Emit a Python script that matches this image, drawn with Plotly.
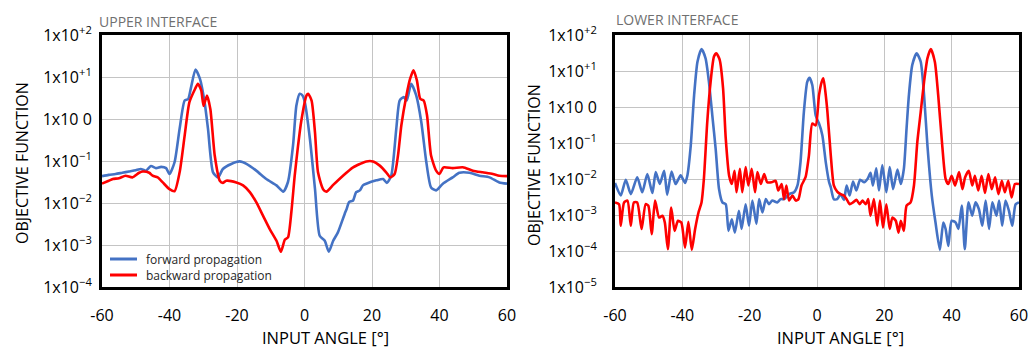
import numpy as np
import plotly.graph_objects as go

# ---------------- data (log10 of objective function) ----------------
up_fwd_x = [-60, -58, -56, -54, -52, -50, -48.5, -47, -45.5, -44, -42.5, -41, -40, -38.5, -37, -35.5, -34.5,
            -33.6, -32.3, -31, -29.6, -28.6, -27.1, -25.6, -24.2, -21.7, -19.2, -17.2, -14.3, -11.3, -8.3,
            -6.3, -4.9, -3.4, -2.4, -1.4, -0.6, 0.1, 1.6, 3.1, 4.5, 6.0, 7.2, 8.5, 9.9, 11.9, 12.5, 13.2,
            14.4, 15.3, 16.4, 17.3, 18.3, 21.3, 23.3, 24.4, 25.7, 27.2, 28.2, 29.4, 30.3, 31.6, 33.1, 34.6,
            36.1, 37.5, 39.0, 41.0, 43.9, 45.9, 48.9, 51.8, 54.8, 57.7, 60]
up_fwd_log = [-1.36, -1.33, -1.31, -1.28, -1.25, -1.22, -1.19, -1.23, -1.12, -1.17, -1.14, -1.17, -1.31, -1.03,
              -0.23, 0.44, 0.47, 0.76, 1.18, 0.96, 0.40, -0.23, -1.27, -1.39, -1.19, -1.07, -1.01, -1.07,
              -1.23, -1.43, -1.58, -1.73, -1.50, -0.63, 0.32, 0.60, 0.56, 0.40, -0.47, -1.66, -2.78, -2.90,
              -3.16, -2.90, -2.70, -2.26, -2.14, -1.98, -1.94, -1.74, -1.70, -1.58, -1.54, -1.46, -1.43,
              -1.52, -1.35, -0.23, 0.44, 0.52, 0.44, 0.84, 0.56, -0.07, -1.03, -1.63, -1.70, -1.54, -1.39,
              -1.28, -1.28, -1.35, -1.39, -1.51, -1.54]

up_bwd_x = [-60, -58, -56.8, -55, -53, -51, -49, -47.9, -46, -45, -43.5, -42, -40, -38.5, -37, -35.5, -34.1,
            -32.4, -31.6, -30.6, -29.9, -28.9, -27.9, -26.6, -25.1, -24.2, -23.2, -20.2, -18.2, -16.2, -14.3,
            -12.3, -10.3, -8.3, -7.0, -5.8, -4.9, -3.9, -2.9, -1.9, -1.0, 0.6, 1.1, 2.1, 3.1, 4.0, 5.5, 6.5,
            8.5, 11.4, 14.4, 16.4, 18.3, 20.3, 22.3, 24.2, 25.4, 26.7, 27.7, 28.7, 30.2, 31.3, 32.3, 33.3,
            34.3, 35.3, 36.3, 37.5, 39.0, 40.0, 41.2, 43.9, 46.9, 49.9, 52.8, 55.8, 57.7, 60]
up_bwd_log = [-1.54, -1.47, -1.43, -1.41, -1.35, -1.39, -1.28, -1.25, -1.28, -1.35, -1.39, -1.51, -1.67, -1.72,
              -1.27, -0.39, 0.40, 0.72, 0.84, 0.68, 0.31, 0.56, 0.24, -0.87, -1.47, -1.52, -1.47, -1.51,
              -1.58, -1.74, -1.98, -2.30, -2.62, -2.90, -3.16, -2.87, -2.82, -2.22, -1.35, -0.63, -0.07,
              0.56, 0.60, 0.44, -0.31, -1.27, -1.67, -1.73, -1.57, -1.35, -1.15, -1.07, -1.01, -1.01, -1.11,
              -1.27, -1.39, -1.31, -0.87, -0.15, 0.56, 0.96, 1.16, 0.92, 0.48, 0.44, 0.09, -0.87, -1.23,
              -1.31, -1.15, -1.17, -1.15, -1.23, -1.27, -1.31, -1.35, -1.36]

lo_fwd_x = [-60.0, -58.3, -56.8, -55.3, -53.4, -51.9, -50.4, -48.9, -47.9, -46.7, -45.4, -44.5, -43.2, -42.0,
            -40.5, -39.2, -38.5, -37.5, -36.5, -35.5, -34.3, -33.1, -32.1, -31.1, -30.1, -29.1, -28.1, -27.1,
            -26.3, -25.3, -24.4, -23.2, -22.4, -21.2, -20.2, -19.2, -18.0, -17.2, -16.2, -15.2, -14.3, -13.3,
            -11.8, -10.8, -9.8, -8.3, -6.8, -5.8, -4.9, -3.9, -2.9, -2.2, -1.4, -0.4, 0.4, 0.6, 1.6, 2.6,
            3.6, 4.1, 5.0, 6.0, 7.0, 8.0, 8.8, 9.7, 10.7, 11.7, 12.8, 14.0, 15.0, 15.9, 16.6, 17.6, 18.4,
            19.4, 20.6, 21.6, 22.6, 23.9, 24.9, 25.8, 26.6, 27.3, 28.3, 29.6, 30.8, 31.8, 32.8, 34.1, 35.2,
            36.5, 37.5, 38.2, 39.0, 40.0, 41.2, 42.0, 43.0, 43.9, 45.0, 46.1, 47.1, 48.1, 49.1, 50.1, 51.1,
            52.1, 53.3, 54.1, 55.0, 56.0, 57.0, 58.0, 59.0, 60.0]
lo_fwd_log = [-2.11, -2.46, -2.02, -2.42, -1.95, -2.37, -1.86, -2.39, -1.81, -2.14, -1.77, -2.44, -1.79, -2.14,
              -1.90, -2.11, -1.90, -1.07, 0.33, 1.26, 1.61, 1.35, 0.70, -0.23, -1.16, -2.28, -2.65, -2.70,
              -3.44, -3.12, -3.49, -2.88, -3.39, -2.70, -3.30, -2.60, -3.25, -2.56, -2.93, -2.56, -2.70,
              -2.60, -2.65, -2.56, -2.56, -2.42, -2.37, -2.18, -1.53, -0.14, 0.70, 0.81, 0.61, -0.23, -0.42,
              -0.46, -0.79, -1.53, -2.09, -2.23, -2.56, -2.56, -2.42, -2.58, -2.18, -2.46, -2.07, -2.32,
              -2.02, -2.09, -2.00, -1.83, -2.18, -1.70, -2.32, -1.61, -2.37, -1.67, -2.28, -1.74, -2.14,
              -1.72, -0.60, 0.33, 1.17, 1.49, 1.26, 0.33, -1.07, -2.46, -3.21, -3.97, -3.21, -3.39, -3.86,
              -3.16, -3.21, -3.39, -2.74, -3.95, -2.65, -3.02, -2.65, -2.84, -3.30, -2.60, -3.39, -2.65,
              -3.02, -2.60, -3.30, -2.60, -2.88, -3.30, -2.70, -2.65]

lo_bwd_x = [-60.0, -58.8, -58.3, -57.3, -56.3, -55.3, -54.4, -53.4, -52.1, -50.9, -50.1, -49.1, -48.1, -46.9,
            -45.9, -45.2, -44.3, -43.3, -42.3, -41.3, -40.3, -39.2, -38.2, -37.2, -36.2, -35.2, -34.3, -33.6,
            -32.6, -31.6, -30.6, -29.9, -28.9, -27.9, -27.1, -26.1, -25.3, -24.5, -23.9, -22.9, -22.2, -21.2,
            -20.4, -19.4, -18.4, -17.7, -16.7, -15.7, -14.8, -13.5, -12.3, -11.5, -10.5, -9.8, -9.1, -8.3,
            -7.3, -6.3, -5.5, -4.6, -3.4, -2.4, -1.4, -0.4, 0.6, 1.4, 1.9, 2.6, 3.1, 4.1, 5.0, 6.0, 7.0,
            8.0, 8.8, 9.7, 10.7, 11.7, 12.7, 13.5, 14.5, 15.2, 15.9, 16.9, 17.9, 18.7, 19.6, 20.6, 21.6,
            22.4, 23.4, 24.2, 24.9, 25.8, 26.6, 27.8, 28.8, 29.8, 30.8, 31.8, 32.8, 33.8, 35.0, 36.0, 37.2,
            38.2, 39.0, 40.0, 41.0, 42.2, 43.2, 44.0, 45.1, 46.1, 46.9, 47.9, 48.9, 49.9, 50.9, 51.9, 52.9,
            53.9, 54.9, 55.8, 56.8, 57.8, 58.8, 60.0]
lo_bwd_log = [-2.65, -2.70, -3.30, -2.65, -2.60, -3.30, -2.65, -2.65, -3.39, -2.70, -2.74, -3.53, -2.60, -3.07,
              -3.02, -3.21, -3.95, -2.79, -3.44, -3.16, -3.21, -3.91, -3.19, -3.97, -3.39, -2.93, -2.65,
              -2.00, -0.42, 0.70, 1.40, 1.49, 1.31, 0.52, -0.88, -1.91, -2.14, -1.77, -2.37, -1.72, -2.37,
              -1.67, -2.18, -1.72, -2.37, -1.81, -2.14, -1.86, -2.09, -2.09, -2.05, -2.32, -2.14, -2.56,
              -2.18, -2.60, -2.46, -2.60, -2.56, -2.18, -1.95, -1.35, -0.46, -0.51, 0.33, 0.70, 0.80, 0.33,
              -0.14, -1.35, -2.18, -2.35, -2.42, -2.46, -2.56, -2.70, -2.65, -2.58, -2.70, -2.60, -2.70,
              -2.56, -3.02, -2.56, -3.30, -2.60, -3.35, -2.70, -3.39, -3.07, -3.16, -3.49, -3.16, -3.44,
              -2.74, -2.65, -2.18, -0.97, -0.14, 0.70, 1.35, 1.61, 1.26, 0.33, -1.07, -2.00, -2.14, -1.91,
              -2.18, -1.81, -2.28, -1.95, -1.77, -2.18, -1.91, -2.32, -1.91, -2.39, -1.86, -2.28, -1.95,
              -2.42, -2.05, -2.37, -2.05, -2.51, -2.14, -2.14]

series_names = ["forward propagation", "backward propagation"]
x_ticks = [-60, -40, -20, 0, 20, 40, 60]
up_y_ticks = [1e-4, 1e-3, 1e-2, 1e-1, 1e0, 1e1, 1e2]
up_y_text = ["1x10<sup>\u22124</sup>", "1x10<sup>\u22123</sup>", "1x10<sup>\u22122</sup>",
             "1x10<sup>\u22121</sup>", "1x10 0", "1x10<sup>+1</sup>", "1x10<sup>+2</sup>"]
lo_y_ticks = [1e-5] + up_y_ticks
lo_y_text = ["1x10<sup>\u22125</sup>"] + up_y_text

BLUE = "#4472C4"
RED = "#FF0000"
FONT = "Open Sans"

fig = go.Figure()
line_w = 2.6
shape = dict(shape="spline", smoothing=0.6, width=line_w)

fig.add_trace(go.Scatter(x=up_fwd_x, y=np.power(10.0, up_fwd_log), mode="lines", name=series_names[0],
                         line=dict(color=BLUE, **shape), xaxis="x", yaxis="y"))
fig.add_trace(go.Scatter(x=up_bwd_x, y=np.power(10.0, up_bwd_log), mode="lines", name=series_names[1],
                         line=dict(color=RED, **shape), xaxis="x", yaxis="y"))
fig.add_trace(go.Scatter(x=lo_fwd_x, y=np.power(10.0, lo_fwd_log), mode="lines", name=series_names[0],
                         line=dict(color=BLUE, **shape), xaxis="x2", yaxis="y2"))
fig.add_trace(go.Scatter(x=lo_bwd_x, y=np.power(10.0, lo_bwd_log), mode="lines", name=series_names[1],
                         line=dict(color=RED, **shape), xaxis="x2", yaxis="y2"))

W, H = 1028, 349
def px(v): return v / W
def py(v): return 1 - v / H

common_x = dict(range=[-60, 60], tickvals=x_ticks, ticktext=[str(t) for t in x_ticks],
                showgrid=True, gridcolor="#c4c4c4", gridwidth=1, zeroline=False, automargin=False,
                showline=True, linecolor="black", linewidth=3, mirror=True, ticks="",
                ticklabeloverflow="allow",
                tickfont=dict(family=FONT, size=16, color="black"), ticklabelstandoff=12)
common_y = dict(type="log", showgrid=True, gridcolor="#c4c4c4", gridwidth=1, zeroline=False, automargin=False,
                showline=True, linecolor="black", linewidth=3, mirror=True, ticks="",
                ticklabeloverflow="allow",
                tickfont=dict(family=FONT, size=16, color="black"))

fig.update_layout(
    width=W, height=H, margin=dict(l=0, r=0, t=0, b=0, autoexpand=False),
    paper_bgcolor="white", plot_bgcolor="white",
    xaxis=dict(domain=[px(102), px(507)], anchor="y", **common_x),
    yaxis=dict(domain=[py(287), py(35)], anchor="x", range=[-4, 2], tickvals=up_y_ticks,
               ticktext=up_y_text, ticklabelstandoff=4, **common_y),
    xaxis2=dict(domain=[px(615), px(1019)], anchor="y2", **common_x),
    yaxis2=dict(domain=[py(287), py(35)], anchor="x2", range=[-5, 2], tickvals=lo_y_ticks,
                ticktext=lo_y_text, ticklabelstandoff=12, **common_y),
    showlegend=False,
)

# legend (drawn inside the left panel)
leg_font = dict(family=FONT, size=12, color="#262626")
for i, (name, col) in enumerate(zip(series_names, [BLUE, RED])):
    yy = py(259 + 16 * i)
    fig.add_shape(type="line", xref="paper", yref="paper", x0=px(110), x1=px(137), y0=yy, y1=yy,
                  line=dict(color=col, width=3))
    fig.add_annotation(x=px(144), y=yy, xref="paper", yref="paper", text=name, showarrow=False,
                       font=leg_font, xanchor="left", yanchor="middle")

xt_font = dict(family=FONT, size=16.5, color="black")
yt_font = dict(family=FONT, size=16, color="black")
fig.add_annotation(x=px(325), y=py(337), xref="paper", yref="paper", text="INPUT ANGLE [°]",
                   showarrow=False, font=xt_font, xanchor="center", yanchor="middle", borderpad=0)
fig.add_annotation(x=px(840), y=py(337), xref="paper", yref="paper", text="INPUT ANGLE [°]",
                   showarrow=False, font=xt_font, xanchor="center", yanchor="middle", borderpad=0)
fig.add_annotation(x=px(22), y=py(163), xref="paper", yref="paper", text="OBJECTIVE FUNCTION",
                   showarrow=False, font=yt_font, textangle=-90, xanchor="center", yanchor="middle")
fig.add_annotation(x=px(534), y=py(165), xref="paper", yref="paper", text="OBJECTIVE FUNCTION",
                   showarrow=False, font=yt_font, textangle=-90, xanchor="center", yanchor="middle")
sub_font = dict(family=FONT, size=14, color="#707070")
fig.add_annotation(x=px(97), y=py(22), xref="paper", yref="paper", text="UPPER INTERFACE",
                   showarrow=False, font=sub_font, xanchor="left", yanchor="middle")
fig.add_annotation(x=px(614), y=py(19), xref="paper", yref="paper", text="LOWER INTERFACE",
                   showarrow=False, font=sub_font, xanchor="left", yanchor="middle")

fig.write_html("out.html")
